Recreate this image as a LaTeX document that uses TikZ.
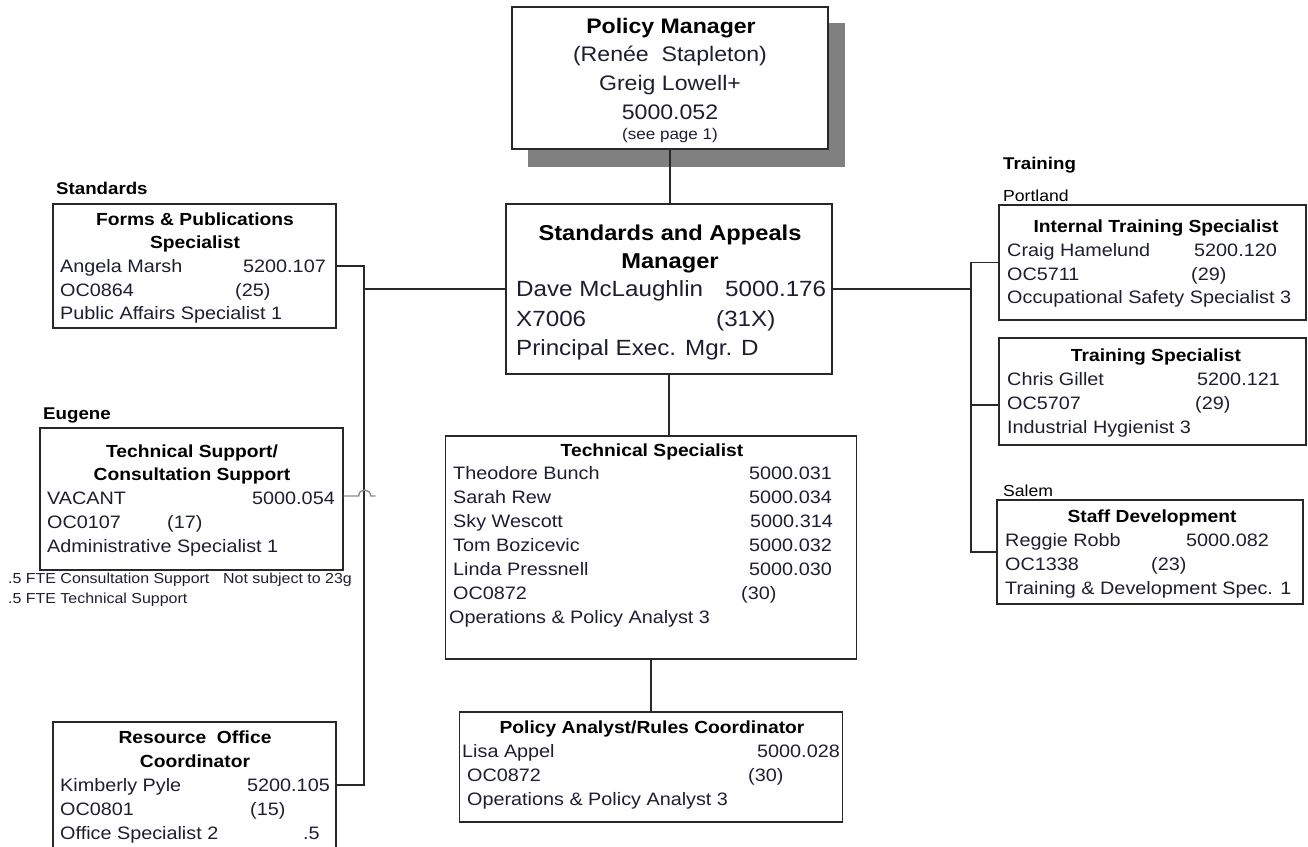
\documentclass[tikz,border=0pt]{standalone}
\usepackage{fontspec}
\setmainfont{Liberation Sans}[FakeStretch=1.1]
\definecolor{txt}{RGB}{30,30,50}
\definecolor{lc}{RGB}{40,40,40}
\definecolor{shadowgray}{RGB}{128,128,128}
\definecolor{hopgray}{RGB}{140,140,140}
\newcommand\fsz[1]{\fontsize{#1}{#1}\selectfont}
\newcommand\TL[5][]{\node[tl,#1] (#2) at (#3,#4) {#5};}
\newcommand\TC[5][]{\node[tc,#1] (#2) at (#3,#4) {#5};}
\newcommand\BX[6][]{\node[box,minimum width=#5pt,minimum height=#6pt,#1] (#2) at (#3,#4) {};}
\begin{document}
\begin{tikzpicture}[x=1pt,y=-1pt,
 tl/.style={anchor=base west,inner sep=0pt,text=txt,font=\fsz{18}},
 tc/.style={anchor=base,inner sep=0pt,text=black,font=\fsz{17.5}\bfseries},
 lbl/.style={anchor=base west,inner sep=0pt,text=black,font=\fsz{17}\bfseries},
 box/.style={draw=lc,line width=1.4pt,fill=white,inner sep=0pt},
 conn/.style={draw=lc,line width=1.4pt},
 hop/.style={draw=hopgray,line width=1.4pt}]
\useasboundingbox (0,0) rectangle (1308,846);
% shadow and boxes
\node[fill=shadowgray,inner sep=0pt,minimum width=317pt,minimum height=144pt] (pmshadow) at (686.5,95) {};
\BX{pm}{670}{78}{316}{142}
\BX{sm}{669}{289}{326}{170}
\BX{fp}{194.5}{266}{283}{124}
\BX{tsup}{191.5}{499}{303}{142}
\BX{res}{194.5}{785}{283}{126}
\BX{tspec}{651}{547.5}{411}{223}
\BX{pa}{651}{767}{383}{110}
\BX{its}{1152.5}{262.5}{307}{115}
\BX{trs}{1152.5}{391.5}{307}{107}
\BX{sd}{1150}{552}{306}{104}
% bus coordinates
\coordinate (lbus) at (364,0);
\coordinate (rbus) at (971,0);
% connectors
\draw[conn] (pm.south) -- (pm.south |- sm.north);
\draw[conn] (sm.south) -- (sm.south |- tspec.north);
\draw[conn] (tspec.south) -- (tspec.south |- pa.north);
\draw[conn] (fp.east) -- (fp.east -| lbus) -- (res.east -| lbus) -- (res.east);
\draw[conn] (sm.west) -- (sm.west -| lbus);
\draw[conn] (sm.east) -- (sm.east -| rbus);
\draw[conn] (its.west) -- (its.west -| rbus) -- (sd.west -| rbus) -- (sd.west);
\draw[conn] ([yshift=-13.5pt]trs.west) -- ([yshift=-13.5pt]trs.west -| rbus);
\draw[hop] ([yshift=3pt]tsup.east) -- ++(15,0) .. controls +(0,-8) and +(0,-8) .. ++(12,0) -- ++(5,0);
% Policy Manager
\TC[font=\fsz{21}\bfseries]{pm1}{671}{33}{Policy Manager}
\TC[text=txt,font=\fsz{21}]{pm2}{670}{61}{(Renée~~Stapleton)}
\TC[text=txt,font=\fsz{21}]{pm3}{670}{90}{Greig Lowell+}
\TC[text=txt,font=\fsz{21}]{pm4}{670}{119}{5000.052}
\TC[text=txt,font=\fsz{15.5}]{pm5}{670}{139.5}{(see page 1)}
% Standards and Appeals Manager
\TC[font=\fsz{21.5}\bfseries]{sm1}{670}{240}{Standards and Appeals}
\TC[font=\fsz{21.5}\bfseries]{sm2}{670}{268}{Manager}
\TL[font=\fsz{22}]{sm3}{516}{296}{Dave McLaughlin}
\TL[font=\fsz{22}]{sm4}{725}{296}{5000.176}
\TL[font=\fsz{22}]{sm5}{516}{326}{X7006}
\TL[font=\fsz{22}]{sm6}{716}{326}{(31X)}
\TL[font=\fsz{22}]{sm7}{516}{355}{Principal Exec. Mgr. D}
% Standards
\node[lbl] (lstd) at (56,194) {Standards};
\TC{fp1}{195}{225}{Forms \& Publications}
\TC{fp2}{195}{248}{Specialist}
\TL{fp3}{60}{272}{Angela Marsh}
\TL{fp4}{243}{272}{5200.107}
\TL{fp5}{60}{296}{OC0864}
\TL{fp6}{235}{296}{(25)}
\TL{fp7}{60}{319}{Public Affairs Specialist 1}
% Eugene
\node[lbl] (leug) at (43,419) {Eugene};
\TC{ts1}{192}{457}{Technical Support/}
\TC{ts2}{192}{480}{Consultation Support}
\TL{ts3}{47}{504}{VACANT}
\TL{ts4}{252}{504}{5000.054}
\TL{ts5}{47}{528}{OC0107}
\TL{ts6}{167}{528}{(17)}
\TL{ts7}{47}{552}{Administrative Specialist 1}
\TL[font=\fsz{14.5}]{n1}{8}{583}{.5 FTE Consultation Support}
\TL[font=\fsz{14.5}]{n2}{223}{583}{Not subject to 23g}
\TL[font=\fsz{14.5}]{n3}{8}{603}{.5 FTE Technical Support}
% Resource Office
\TC{rs1}{195}{743}{Resource~~Office}
\TC{rs2}{195}{767}{Coordinator}
\TL{rs3}{60}{791}{Kimberly Pyle}
\TL{rs4}{247}{791}{5200.105}
\TL{rs5}{60}{815}{OC0801}
\TL{rs6}{250}{815}{(15)}
\TL{rs7}{60}{839}{Office Specialist 2}
\TL{rs8}{303}{839}{.5}
% Technical Specialist
\TC{tp0}{652}{456}{Technical Specialist}
\TL{tp1}{453}{479}{Theodore Bunch}
\TL{tp2}{749}{479}{5000.031}
\TL{tp3}{453}{503}{Sarah Rew}
\TL{tp4}{749}{503}{5000.034}
\TL{tp5}{453}{527}{Sky Wescott}
\TL{tp6}{750}{527}{5000.314}
\TL{tp7}{453}{551}{Tom Bozicevic}
\TL{tp8}{749}{551}{5000.032}
\TL{tp9}{453}{575}{Linda Pressnell}
\TL{tp10}{749}{575}{5000.030}
\TL{tp11}{453}{599}{OC0872}
\TL{tp12}{741}{599}{(30)}
\TL{tp13}{449}{623}{Operations \& Policy Analyst 3}
% Policy Analyst
\TC{pa0}{652}{733}{Policy Analyst/Rules Coordinator}
\TL{pa1}{462}{757}{Lisa Appel}
\TL{pa2}{757}{757}{5000.028}
\TL{pa3}{467}{781}{OC0872}
\TL{pa4}{748}{781}{(30)}
\TL{pa5}{467}{805}{Operations \& Policy Analyst 3}
% Training
\node[lbl] (ltrn) at (1003,169) {Training};
\TL[text=black,font=\fsz{16}]{lport}{1003}{201}{Portland}
\TC{it0}{1156}{232}{Internal Training Specialist}
\TL{it1}{1007}{256}{Craig Hamelund}
\TL{it2}{1194}{256}{5200.120}
\TL{it3}{1007}{280}{OC5711}
\TL{it4}{1191}{280}{(29)}
\TL{it5}{1007}{303}{Occupational Safety Specialist 3}
\TC{tr0}{1156}{361}{Training Specialist}
\TL{tr1}{1007}{385}{Chris Gillet}
\TL{tr2}{1197}{385}{5200.121}
\TL{tr3}{1007}{409}{OC5707}
\TL{tr4}{1195}{409}{(29)}
\TL{tr5}{1007}{433}{Industrial Hygienist 3}
\TL[text=black,font=\fsz{16}]{lsal}{1003}{496}{Salem}
\TC{sd0}{1152}{522}{Staff Development}
\TL{sd1}{1005}{546}{Reggie Robb}
\TL{sd2}{1186}{546}{5000.082}
\TL{sd3}{1005}{570}{OC1338}
\TL{sd4}{1151}{570}{(23)}
\TL{sd5}{1005}{594}{Training \& Development Spec. 1}
\end{tikzpicture}
\end{document}
